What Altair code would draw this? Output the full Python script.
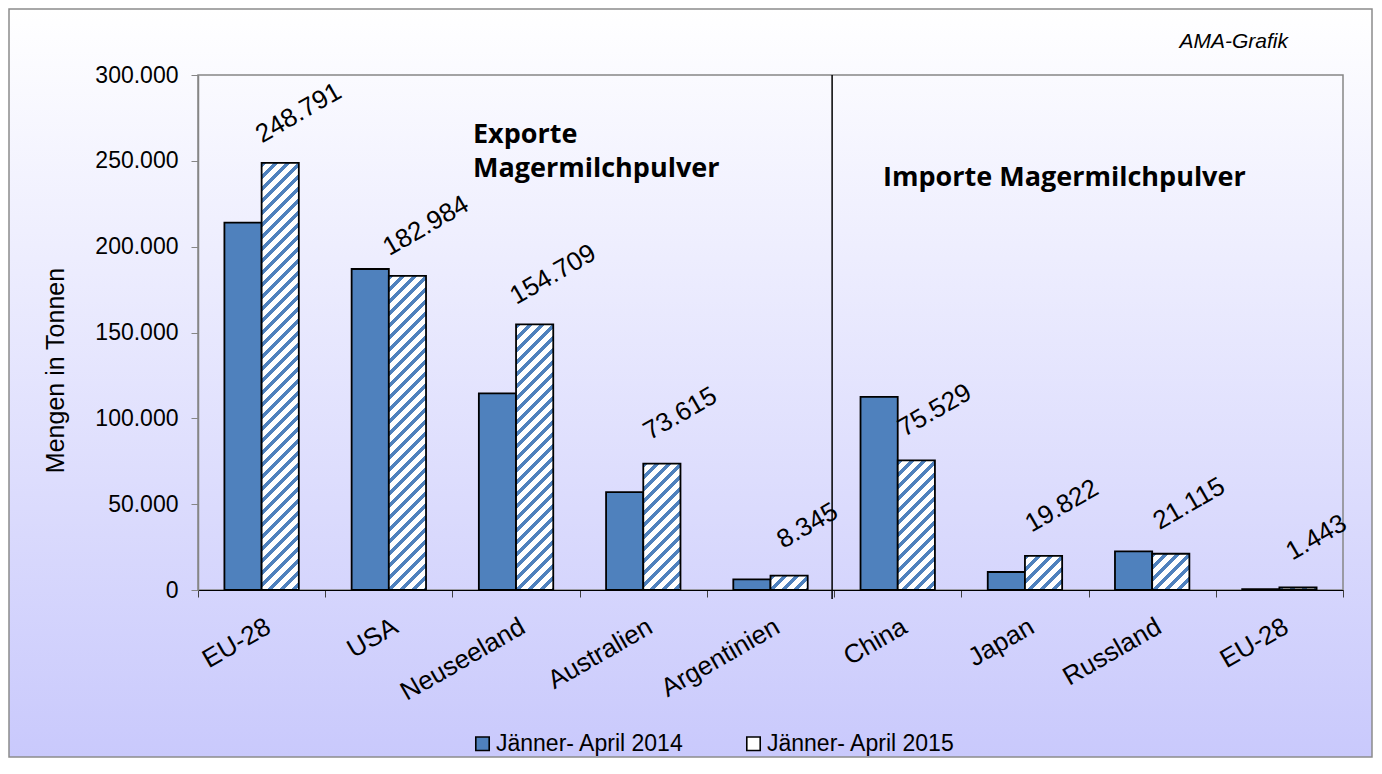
import math
import altair as alt
import pandas as pd

# ---------------- data ----------------
categories = ["EU-28", "USA", "Neuseeland", "Australien", "Argentinien",
              "China", "Japan", "Russland", "EU-28 "]   # 2nd EU-28 (imports) kept distinct by a trailing space
values_2014 = [214000, 187000, 114500, 57000, 6200, 112500, 10500, 22500, 500]
values_2015 = [248791, 182984, 154709, 73615, 8345, 75529, 19822, 21115, 1443]
series_names = ["Jänner- April 2014", "Jänner- April 2015"]
y_ticks = [0, 50000, 100000, 150000, 200000, 250000, 300000]

# ---------------- layout / style ----------------
W, H = 1145, 515
YMAX = 300000
OFF_PAD = 0.71
FONT = "Liberation Sans"
BLUE = "#4f81bd"
band = W / len(categories)
bar_w = band / (2 + 2 * OFF_PAD)

rows = []
for c, v in zip(categories, values_2014):
    rows.append({"cat": c, "series": series_names[0], "value": v, "label": ""})
for c, v in zip(categories, values_2015):
    rows.append({"cat": c, "series": series_names[1], "value": v,
                 "label": f"{v:,}".replace(",", ".")})
df = pd.DataFrame(rows)
one = pd.DataFrame({"k": [0]})


def hatch(w, h, period=12.0, frac=0.42, c1=BLUE, c2="#ffffff"):
    """diagonal '/' stripes drawn with a hard-stop linear gradient (bbox units)"""
    h = max(h, 0.5)
    s = w + h
    c = s / (w * w + h * h)
    p = period / s
    stops = []
    k = 0
    while k * p < 1:
        t0 = k * p
        t1 = min(t0 + frac * p, 1.0)
        t2 = min(t0 + p, 1.0)
        stops += [{"offset": round(t0, 5), "color": c1},
                  {"offset": round(t1, 5), "color": c1},
                  {"offset": round(t1, 5), "color": c2},
                  {"offset": round(t2, 5), "color": c2}]
        k += 1
    return {"gradient": "linear", "x1": 0, "y1": 0,
            "x2": c * w, "y2": c * h, "stops": stops}


x_axis = alt.Axis(title=None, labelAngle=330, labelAlign="right", labelBaseline="top",
                  labelFontSize=26, labelFont=FONT, labelColor="black",
                  labelPadding=16, tickSize=7, tickBand="extent", tickColor="#404040",
                  domainColor="black", domainWidth=1.2, labelExpr="trim(datum.label)",
                  zindex=1)
x_scale = alt.Scale(domain=categories, paddingInner=0, paddingOuter=0)
x_enc = alt.X("cat:N", sort=categories, scale=x_scale, axis=x_axis)
xo_enc = alt.XOffset("series:N", sort=series_names,
                     scale=alt.Scale(domain=series_names, paddingInner=0, paddingOuter=OFF_PAD))
y_enc = alt.Y("value:Q", scale=alt.Scale(domain=[0, YMAX], nice=False),
              axis=alt.Axis(title="Mengen in Tonnen", values=y_ticks, grid=False,
                            labelExpr="replace(format(datum.value, ','), ',', '.')",
                            labelFontSize=23, labelFont=FONT, labelColor="black",
                            labelPadding=13, tickSize=7, tickColor="#868686",
                            domainColor="#868686", domainWidth=1.5,
                            titleFontSize=25, titleFont=FONT, titleFontWeight="normal",
                            titleColor="black", titleAngle=270, titleX=-135, titleY=295,
                            titleAlign="center", titleBaseline="alphabetic", zindex=1))

bg_grad = {"gradient": "linear", "x1": 0, "y1": 0, "x2": 0, "y2": 1,
           "stops": [{"offset": 0, "color": "#ffffff"}, {"offset": 1, "color": "#c9c9fc"}]}

background = alt.Chart(one).mark_rect(fill=bg_grad, stroke="#8c8c8c", strokeWidth=1.5).encode(
    x=alt.value(-189), x2=alt.value(W + 29), y=alt.value(-66), y2=alt.value(H + 167))

plot_border = alt.Chart(one).mark_rect(filled=False, stroke="#868686", strokeWidth=1.5).encode(
    x=alt.value(0), x2=alt.value(W), y=alt.value(0), y2=alt.value(H))

bars_2014 = alt.Chart(df).transform_filter(alt.datum.series == series_names[0]).mark_bar(
    stroke="black", strokeWidth=1.8).encode(
    x=x_enc, xOffset=xo_enc, y=y_enc,
    color=alt.Color("series:N", scale=alt.Scale(domain=series_names, range=[BLUE, "#ffffff"]),
                    legend=alt.Legend(title=None, orient="none", legendX=273, legendY=657,
                                      direction="horizontal", symbolType="square",
                                      symbolSize=180, symbolStrokeColor="black",
                                      symbolStrokeWidth=1.6, labelFontSize=23, labelFont=FONT,
                                      labelColor="black", labelOffset=2, columnPadding=58,
                                      labelLimit=0, padding=0)))

hatched = []
for c, v in zip(categories, values_2015):
    h = v / YMAX * H
    hatched.append(
        alt.Chart(df).transform_filter(
            (alt.datum.series == series_names[1]) & (alt.datum.cat == c)
        ).mark_bar(fill=hatch(bar_w, h), stroke="black", strokeWidth=1.8).encode(
            x=x_enc, xOffset=xo_enc, y=y_enc))

# value labels: rotated text centred ~36px right of band centre, ~21px above the bar top
ANG = 30
sx, sy = 41.0, -43.0          # wanted screen offset of the text anchor (baseline centre)
ca, sa = math.cos(math.radians(ANG)), math.sin(math.radians(ANG))
ldx = ca * sx - sa * sy       # Vega applies dx/dy after rotation
ldy = sa * sx + ca * sy
labels = alt.Chart(df).transform_filter(alt.datum.series == series_names[1]).mark_text(
    angle=360 - ANG, align="center", baseline="alphabetic", dx=ldx, dy=ldy,
    fontSize=26, font=FONT, color="black").encode(x=x_enc, y=y_enc, text="label:N")

sep = alt.Chart(pd.DataFrame({"cat": ["China"]})).mark_rule(
    color="black", strokeWidth=1.5, xOffset=-2).encode(
    x=alt.X("cat:N", sort=categories, scale=x_scale, axis=x_axis, bandPosition=0),
    y=alt.value(0), y2=alt.value(H + 9))

def note(txt, px, py, size=27, bold=True, italic=False, align="left", font="Open Sans"):
    return alt.Chart(one).mark_text(
        text=txt, align=align, baseline="alphabetic", fontSize=size, font=font,
        fontWeight="bold" if bold else "normal", fontStyle="italic" if italic else "normal",
        color="black").encode(x=alt.value(px), y=alt.value(py))

notes = [
    note("Exporte", 275, 68),
    note("Magermilchpulver", 275, 102),
    note("Importe Magermilchpulver", 685, 111),
    note("AMA-Grafik", 1090, -27, size=21, bold=False, italic=True, align="right", font=FONT),
]

chart = alt.layer(background, plot_border, bars_2014, *hatched, labels, sep, *notes).properties(
    width=W, height=H,
    padding={"left": 190, "top": 67, "right": 31, "bottom": 168},
    autosize=alt.AutoSizeParams(type="none"),
).configure_view(stroke=None).configure_axis(zindex=1)

chart.save("out.html", embed_options={"renderer": "svg", "actions": False})
